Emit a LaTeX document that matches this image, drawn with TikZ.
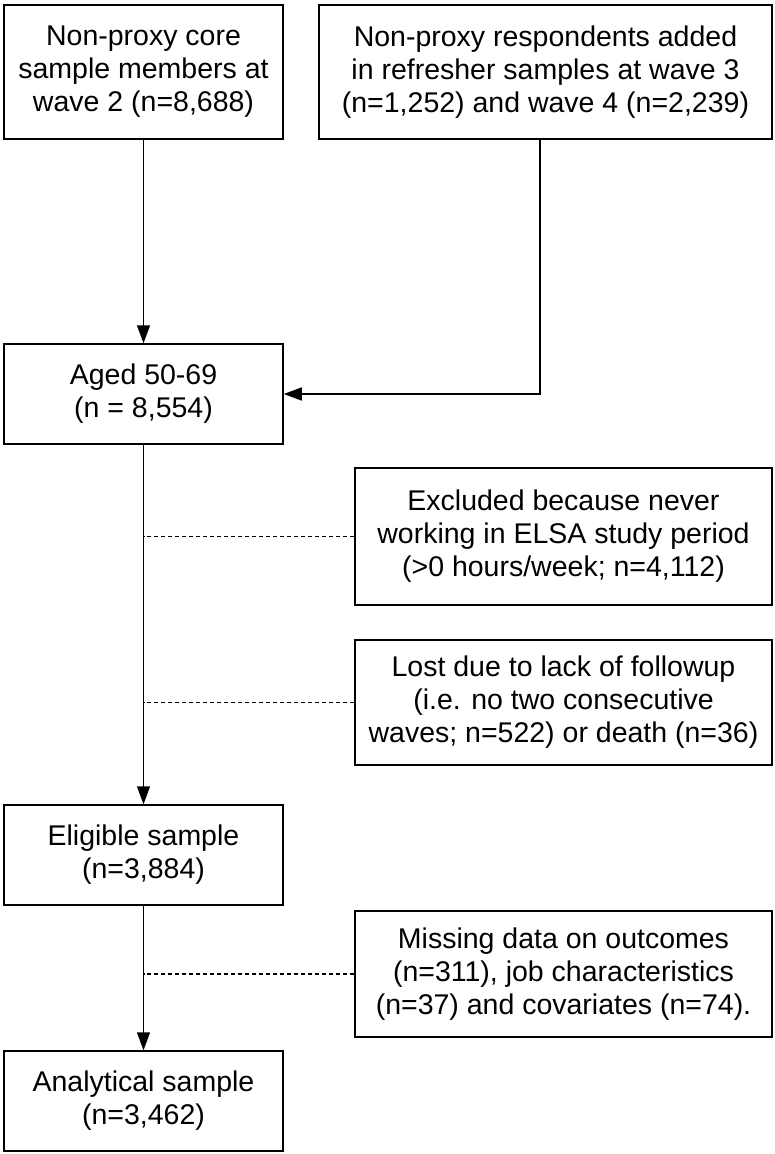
\documentclass[tikz,border=0pt]{standalone}
\usepackage{fontspec}
\setmainfont{Liberation Sans}
\usetikzlibrary{arrows.meta}
\begin{document}
\begin{tikzpicture}[x=1pt,y=-1pt,
  box/.style={draw,line width=1.5pt,rectangle,inner sep=0pt,align=center,
    font=\fontsize{28.5}{33}\selectfont},
  arr/.style={line width=1.5pt,-{Triangle[length=18pt,width=13pt]}},
  dsh/.style={line width=1.2pt,dash pattern=on 4pt off 3pt}]
\useasboundingbox (0,0) rectangle (774,1154);
\node[box,minimum width=279pt,minimum height=134pt] (b1) at (143.5,72)
  {Non-proxy core\\sample members at\\wave 2 (n=8,688)};
\node[box,minimum width=453pt,minimum height=134pt] (b2) at (545.5,72)
  {Non-proxy respondents added\\in refresher samples at wave 3\\(n=1,252) and wave 4 (n=2,239)};
\node[box,minimum width=279pt,minimum height=100pt] (b3) at (143.5,394)
  {Aged 50-69\\(n = 8,554)};
\node[box,minimum width=417pt,minimum height=137pt] (ex) at (563.5,536.5)
  {Excluded because never\\working in ELSA study period\\(>0 hours/week; n=4,112)};
\node[box,minimum width=417pt,minimum height=125pt] (lo) at (563.5,702.5)
  {Lost due to lack of followup\\(i.e. no two consecutive\\waves; n=522) or death (n=36)};
\node[box,minimum width=279pt,minimum height=100pt] (el) at (143.5,855)
  {Eligible sample\\(n=3,884)};
\node[box,minimum width=417pt,minimum height=126pt] (mi) at (563.5,974)
  {Missing data on outcomes\\(n=311), job characteristics\\(n=37) and covariates (n=74).};
\node[box,minimum width=279pt,minimum height=100pt] (an) at (143.5,1101)
  {Analytical sample\\(n=3,462)};
\draw[arr] (b1) -- (b3);
\draw[arr] ([xshift=-5.5pt]b2.south) |- (b3.east);
\draw[arr] (b3) -- (el);
\draw[dsh] (ex.west) -- (ex.west -| b3.south);
\draw[dsh] (lo.west) -- (lo.west -| b3.south);
\draw[arr] (el) -- (an);
\draw[dsh] (mi.west) -- (mi.west -| el.south);
\end{tikzpicture}
\end{document}
